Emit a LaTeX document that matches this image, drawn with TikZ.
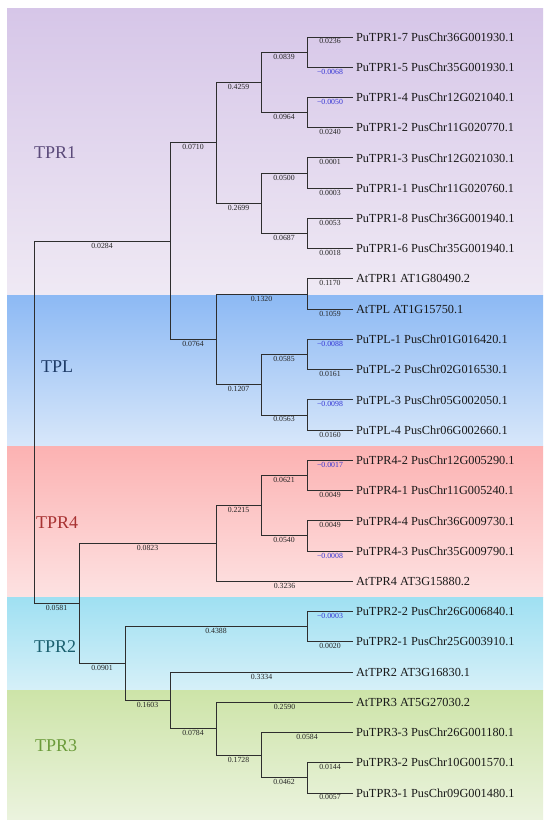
\documentclass[tikz,border=0pt]{standalone}
\usepackage{fontspec}
\setmainfont{Liberation Serif}
\definecolor{linec}{HTML}{2E2E2E}
\definecolor{negc}{HTML}{3535D5}
\definecolor{aT}{HTML}{D6C6E8}\definecolor{aB}{HTML}{EFE9F4}
\definecolor{bT}{HTML}{8CB9F4}\definecolor{bB}{HTML}{D8E7FA}
\definecolor{cT}{HTML}{FCB2B2}\definecolor{cB}{HTML}{FDE2E2}
\definecolor{dT}{HTML}{9FE0F2}\definecolor{dB}{HTML}{D6F0F8}
\definecolor{eT}{HTML}{CDE4A8}\definecolor{eB}{HTML}{EBF3DE}
\definecolor{tprone}{HTML}{5B4A7A}
\definecolor{tplc}{HTML}{1D3A66}
\definecolor{tprfour}{HTML}{A83232}
\definecolor{tprtwo}{HTML}{1A5F6E}
\definecolor{tprthree}{HTML}{6B9B3A}
\begin{document}
\begin{tikzpicture}[x=1pt,y=-1pt,
  br/.style={draw=linec, line width=1pt},
  bl/.style={font=\fontsize{7.8}{8}\selectfont, text=black!85, below, inner sep=1.3pt, pos=0.75},
  neg/.style={bl, text=negc},
  leaf/.style={anchor=west, inner xsep=3pt, inner ysep=0pt, outer sep=0pt, font=\fontsize{12.3}{14}\selectfont, text=black!90},
  clade/.style={anchor=west, inner sep=0pt, font=\fontsize{18}{20}\selectfont}]
\useasboundingbox (0,0) rectangle (550,827);
\fill[white] (0,0) rectangle (550,827);
% background bands
\shade[top color=aT, bottom color=aB] (7,8) rectangle (543,295);
\shade[top color=bT, bottom color=bB] (7,295) rectangle (543,446);
\shade[top color=cT, bottom color=cB] (7,446) rectangle (543,597);
\shade[top color=dT, bottom color=dB] (7,597) rectangle (543,690);
\shade[top color=eT, bottom color=eB] (7,690) rectangle (543,819);
% clade labels
\node[clade, text=tprone] (cl1) at (34,153) {TPR1};
\node[clade, text=tplc] (cl2) at (41,367) {TPL};
\node[clade, text=tprfour] (cl3) at (36,523) {TPR4};
\node[clade, text=tprtwo] (cl4) at (34,647) {TPR2};
\node[clade, text=tprthree] (cl5) at (35,746) {TPR3};
% leaves
\node[leaf] (l0) at (353,37.00) {PuTPR1-7 PusChr36G001930.1};
\node[leaf] (l1) at (353,67.24) {PuTPR1-5 PusChr35G001930.1};
\node[leaf] (l2) at (353,97.48) {PuTPR1-4 PusChr12G021040.1};
\node[leaf] (l3) at (353,127.72) {PuTPR1-2 PusChr11G020770.1};
\node[leaf] (l4) at (353,157.96) {PuTPR1-3 PusChr12G021030.1};
\node[leaf] (l5) at (353,188.20) {PuTPR1-1 PusChr11G020760.1};
\node[leaf] (l6) at (353,218.44) {PuTPR1-8 PusChr36G001940.1};
\node[leaf] (l7) at (353,248.68) {PuTPR1-6 PusChr35G001940.1};
\node[leaf] (l8) at (353,278.92) {AtTPR1 AT1G80490.2};
\node[leaf] (l9) at (353,309.16) {AtTPL AT1G15750.1};
\node[leaf] (l10) at (353,339.40) {PuTPL-1 PusChr01G016420.1};
\node[leaf] (l11) at (353,369.64) {PuTPL-2 PusChr02G016530.1};
\node[leaf] (l12) at (353,399.88) {PuTPL-3 PusChr05G002050.1};
\node[leaf] (l13) at (353,430.12) {PuTPL-4 PusChr06G002660.1};
\node[leaf] (l14) at (353,460.36) {PuTPR4-2 PusChr12G005290.1};
\node[leaf] (l15) at (353,490.60) {PuTPR4-1 PusChr11G005240.1};
\node[leaf] (l16) at (353,520.84) {PuTPR4-4 PusChr36G009730.1};
\node[leaf] (l17) at (353,551.08) {PuTPR4-3 PusChr35G009790.1};
\node[leaf] (l18) at (353,581.32) {AtTPR4 AT3G15880.2};
\node[leaf] (l19) at (353,611.56) {PuTPR2-2 PusChr26G006840.1};
\node[leaf] (l20) at (353,641.80) {PuTPR2-1 PusChr25G003910.1};
\node[leaf] (l21) at (353,672.04) {AtTPR2 AT3G16830.1};
\node[leaf] (l22) at (353,702.28) {AtTPR3 AT5G27030.2};
\node[leaf] (l23) at (353,732.52) {PuTPR3-3 PusChr26G001180.1};
\node[leaf] (l24) at (353,762.76) {PuTPR3-2 PusChr10G001570.1};
\node[leaf] (l25) at (353,793.00) {PuTPR3-1 PusChr09G001480.1};
% internal nodes
\coordinate (p0) at (307,52.12);
\coordinate (p2) at (307,112.60);
\coordinate (p4) at (307,173.08);
\coordinate (p6) at (307,233.56);
\coordinate (p8) at (307,294.04);
\coordinate (p10) at (307,354.52);
\coordinate (p12) at (307,415.00);
\coordinate (p14) at (307,475.48);
\coordinate (p16) at (307,535.96);
\coordinate (p19) at (307,626.68);
\coordinate (p24) at (307,777.88);
\coordinate (nA) at (261,82.36);
\coordinate (nB) at (261,203.32);
\coordinate (tprA) at (216,142.84);
\coordinate (tplsub) at (261,384.76);
\coordinate (tplN) at (216,339.40);
\coordinate (upper) at (170,241.12);
\coordinate (n4) at (261,505.72);
\coordinate (tpr4N) at (216,543.52);
\coordinate (nF) at (261,755.20);
\coordinate (nE) at (216,728.74);
\coordinate (nD) at (170,700.39);
\coordinate (nC) at (125,663.54);
\coordinate (lower) at (79,603.53);
\coordinate (root) at (34,422.30);
% branches
\draw[br] (root) |- node[bl]{0.0284} (upper);
\draw[br] (root) |- node[bl]{0.0581} (lower);
\draw[br] (upper) |- node[bl]{0.0710} (tprA);
\draw[br] (upper) |- node[bl]{0.0764} (tplN);
\draw[br] (tprA) |- node[bl]{0.4259} (nA);
\draw[br] (tprA) |- node[bl]{0.2699} (nB);
\draw[br] (nA) |- node[bl]{0.0839} (p0);
\draw[br] (nA) |- node[bl]{0.0964} (p2);
\draw[br] (nB) |- node[bl]{0.0500} (p4);
\draw[br] (nB) |- node[bl]{0.0687} (p6);
\draw[br] (p0) |- node[bl]{0.0236} (l0.west);
\draw[br] (p0) |- node[neg]{−0.0068} (l1.west);
\draw[br] (p2) |- node[neg]{−0.0050} (l2.west);
\draw[br] (p2) |- node[bl]{0.0240} (l3.west);
\draw[br] (p4) |- node[bl]{0.0001} (l4.west);
\draw[br] (p4) |- node[bl]{0.0003} (l5.west);
\draw[br] (p6) |- node[bl]{0.0053} (l6.west);
\draw[br] (p6) |- node[bl]{0.0018} (l7.west);
\draw[br] (tplN) |- node[bl]{0.1320} (p8);
\draw[br] (tplN) |- node[bl]{0.1207} (tplsub);
\draw[br] (p8) |- node[bl]{0.1170} (l8.west);
\draw[br] (p8) |- node[bl]{0.1059} (l9.west);
\draw[br] (tplsub) |- node[bl]{0.0585} (p10);
\draw[br] (tplsub) |- node[bl]{0.0563} (p12);
\draw[br] (p10) |- node[neg]{−0.0088} (l10.west);
\draw[br] (p10) |- node[bl]{0.0161} (l11.west);
\draw[br] (p12) |- node[neg]{−0.0098} (l12.west);
\draw[br] (p12) |- node[bl]{0.0160} (l13.west);
\draw[br] (lower) |- node[bl]{0.0823} (tpr4N);
\draw[br] (lower) |- node[bl]{0.0901} (nC);
\draw[br] (tpr4N) |- node[bl]{0.2215} (n4);
\draw[br] (tpr4N) |- node[bl]{0.3236} (l18.west);
\draw[br] (n4) |- node[bl]{0.0621} (p14);
\draw[br] (n4) |- node[bl]{0.0540} (p16);
\draw[br] (p14) |- node[neg]{−0.0017} (l14.west);
\draw[br] (p14) |- node[bl]{0.0049} (l15.west);
\draw[br] (p16) |- node[bl]{0.0049} (l16.west);
\draw[br] (p16) |- node[neg]{−0.0008} (l17.west);
\draw[br] (nC) |- node[bl]{0.4388} (p19);
\draw[br] (nC) |- node[bl]{0.1603} (nD);
\draw[br] (p19) |- node[neg]{−0.0003} (l19.west);
\draw[br] (p19) |- node[bl]{0.0020} (l20.west);
\draw[br] (nD) |- node[bl]{0.3334} (l21.west);
\draw[br] (nD) |- node[bl]{0.0784} (nE);
\draw[br] (nE) |- node[bl]{0.2590} (l22.west);
\draw[br] (nE) |- node[bl]{0.1728} (nF);
\draw[br] (nF) |- node[bl]{0.0584} (l23.west);
\draw[br] (nF) |- node[bl]{0.0462} (p24);
\draw[br] (p24) |- node[bl]{0.0144} (l24.west);
\draw[br] (p24) |- node[bl]{0.0057} (l25.west);
\end{tikzpicture}
\end{document}
